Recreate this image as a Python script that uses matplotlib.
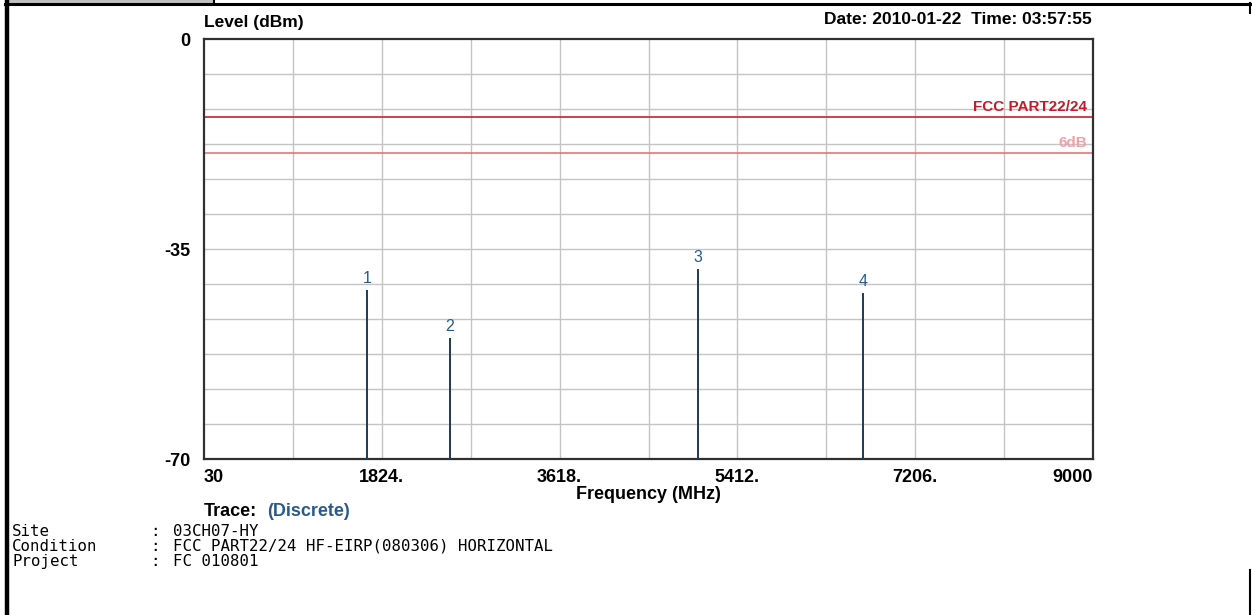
import matplotlib
matplotlib.use("Agg")
import matplotlib.pyplot as plt
from matplotlib.lines import Line2D
from matplotlib.patches import Rectangle
import numpy as np

# ---- data ----
freqs_mhz = [1673, 2510, 5010, 6680]
levels_dbm = [-41.9, -49.9, -38.4, -42.4]
marker_labels = ["1", "2", "3", "4"]
limit_fcc = -13.0
limit_6db = -19.0
x_ticks = [30, 1824, 3618, 5412, 7206, 9000]
x_tick_labels = ["30", "1824.", "3618.", "5412.", "7206.", "9000"]
y_ticks = [0, -35, -70]
y_tick_labels = ["0", "-35", "-70"]
info_keys = ["Site", "Condition", "Project"]
info_vals = ["03CH07-HY", "FCC PART22/24 HF-EIRP(080306) HORIZONTAL", "FC 010801"]

W, H = 1252, 615
fig = plt.figure(figsize=(W / 100, H / 100), dpi=100)
fig.patch.set_facecolor("white")

def fx(px):
    return px / W

def fy(py):
    return 1 - py / H

# axes area in pixels: x 204-1093, y 39-459
ax = fig.add_axes([fx(204), fy(459), fx(1093) - fx(204), fy(39) - fy(459)])
xmin, xmax = 30, 9000
ymin, ymax = -70, 0
ax.set_xlim(xmin, xmax)
ax.set_ylim(ymin, ymax)

# grid: 10 vertical divisions, 12 horizontal divisions
for gx in np.linspace(xmin, xmax, 11)[1:-1]:
    ax.axvline(gx, color="#c4c4c4", lw=1.0, zorder=1)
for gy in np.linspace(ymin, ymax, 13)[1:-1]:
    ax.axhline(gy, color="#c4c4c4", lw=1.0, zorder=1)

# limit lines
ax.axhline(limit_fcc, color="#c8202e", lw=1.2, zorder=2)
ax.axhline(limit_6db, color="#e06a70", lw=1.1, zorder=2)
ax.text(xmax - 60, limit_fcc + 0.55, "FCC PART22/24", color="#c01c2a",
        fontsize=11, fontweight="bold", ha="right", va="bottom",
        family="Liberation Sans", zorder=3)
ax.text(xmax - 60, limit_6db + 1.6, "6dB", color="#eba3a6",
        fontsize=11, fontweight="bold", ha="right", va="center",
        family="Liberation Sans", zorder=3)

# discrete spikes
ax.vlines(freqs_mhz, ymin, levels_dbm, color="#1c3a5a", lw=1.4, zorder=4)
for f, lv, lab in zip(freqs_mhz, levels_dbm, marker_labels):
    ax.text(f, lv + 0.7, lab, color="#2a5a8c", fontsize=11.5, ha="center",
            va="bottom", family="Liberation Sans", zorder=5)

# ticks
ax.set_xticks(x_ticks)
ax.set_xticklabels(x_tick_labels, fontsize=13, fontweight="bold",
                   family="Liberation Sans")
labs = ax.get_xticklabels()
labs[0].set_ha("left")
labs[-1].set_ha("right")
ax.set_yticks(y_ticks)
ax.set_yticklabels(y_tick_labels, fontsize=13, fontweight="bold",
                   family="Liberation Sans")
ax.tick_params(axis="both", length=0)
ax.tick_params(axis="x", pad=7)
ax.tick_params(axis="y", pad=10)
for s in ax.spines.values():
    s.set_color("#303030")
    s.set_linewidth(1.6)

ax.set_xlabel("Frequency (MHz)", fontsize=13, fontweight="bold",
              family="Liberation Sans", labelpad=0)

# header texts
fig.text(fx(204), fy(22), "Level (dBm)", fontsize=12.5, fontweight="bold",
         family="Liberation Sans", ha="left", va="center")
fig.text(fx(1092), fy(19), "Date: 2010-01-22  Time: 03:57:55", fontsize=12.5,
         fontweight="bold", family="Liberation Sans", ha="right", va="center")

# trace label
t1 = fig.text(fx(204), fy(511), "Trace:", fontsize=13, fontweight="bold",
              family="Liberation Sans", ha="left", va="center")
fig.canvas.draw()
bb = t1.get_window_extent()
fig.text((bb.x1 + 10) / W, fy(511), "(Discrete)", fontsize=13, fontweight="bold",
         color="#2a5a8c", family="Liberation Sans", ha="left", va="center")

# info block
for i, (k, v) in enumerate(zip(info_keys, info_vals)):
    yy = fy(531 + i * 15.3)
    fig.text(fx(12), yy, k, fontsize=11.3, family="DejaVu Sans Mono",
             ha="left", va="center")
    fig.text(fx(150), yy, ":", fontsize=11.3, family="DejaVu Sans Mono",
             ha="left", va="center")
    fig.text(fx(173), yy, v, fontsize=11.3, family="DejaVu Sans Mono",
             ha="left", va="center")

# document frame
def hline(x0, x1, y, lw):
    fig.add_artist(Line2D([fx(x0), fx(x1)], [fy(y), fy(y)], color="black",
                          lw=lw, transform=fig.transFigure))

def vline(x, y0, y1, lw):
    fig.add_artist(Line2D([fx(x), fx(x)], [fy(y0), fy(y1)], color="black",
                          lw=lw, transform=fig.transFigure))

fig.add_artist(Rectangle((fx(9), fy(3.5)), fx(213) - fx(9), fy(0) - fy(3.5),
                         color="#c0c0c0", transform=fig.transFigure, lw=0))
hline(5, 1251, 4, 2.2)
vline(7, 0, 615, 3.2)
vline(214, 0, 4, 1.5)
vline(1250, 3, 13, 1.5)
vline(1250, 570, 615, 1.5)

fig.savefig("out.png", dpi=100)
